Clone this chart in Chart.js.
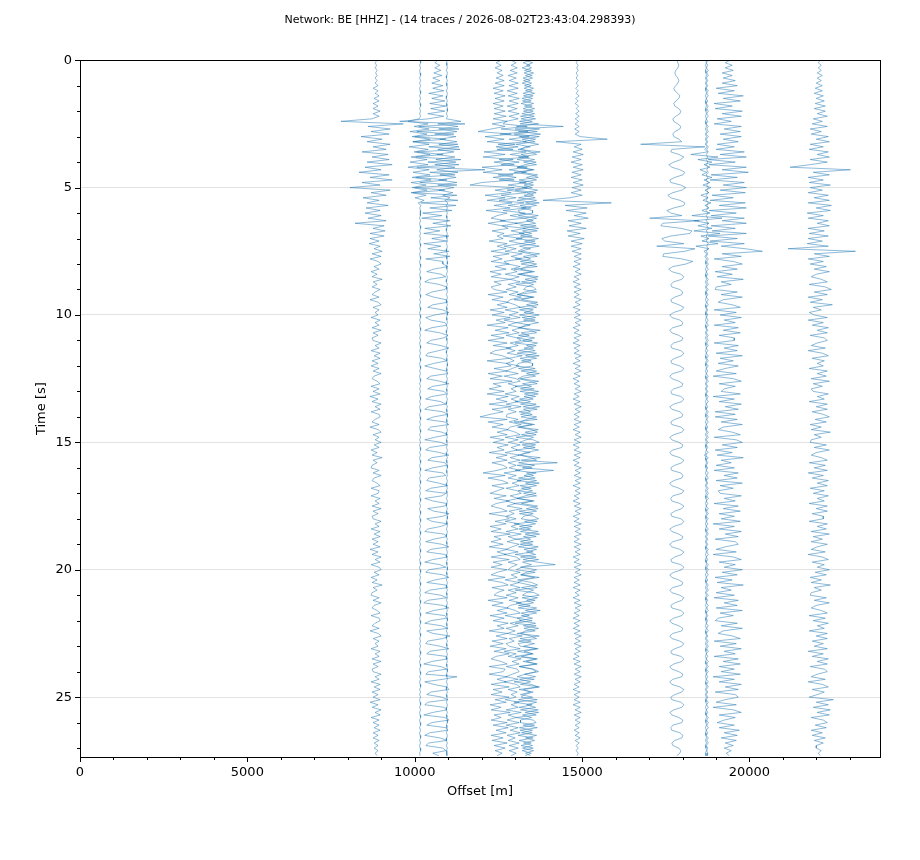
<!DOCTYPE html>
<html>
<head>
<meta charset="utf-8">
<script src="https://cdn.jsdelivr.net/npm/chart.js@4.4.1/dist/chart.umd.min.js"></script>
<style>
  html, body { margin: 0; padding: 0; background: #fff; }
  #wrap { width: 920px; height: 860px; }
</style>
</head>
<body>
<div id="wrap"><canvas id="chart"></canvas></div>
<script>
// record section: 14 vertical traces, time goes down
const titleText = 'Network: BE [HHZ] - (14 traces / 2026-08-02T23:43:04.298393)';
const sampleStep = 0.1;      // s between samples
const ampUnit = 30;          // metres of offset per amplitude count
const xMax = 23900;
const yMax = 27.35;
const xTickLabels = [0, 5000, 10000, 15000, 20000];
const yTickLabels = [0, 5, 10, 15, 20, 25];

// station offsets [m]
const stationOffsets = [8846, 10161, 10660, 10960, 12522, 12941, 13359, 13400, 14853, 17830, 18739, 18700, 19366, 22086];

// amplitudes, one row = 1 s (10 samples)
const trace_8846 = [
  1,-1,0.5,-1,1,-0.5,1,-1,1,-1,
  2,-3,2,-1,3,-2,3,-3,2,-3,
  4,-3,3,-4,-35,27,-8,14,-5,13,
  -15,6,-9,14,-3,10,-14,12,-4,13,
  -9,16,-11,5,-17,13,-6,16,-14,4,
  -26,14,-5,10,-13,3,-9,12,-10,4,
  -11,5,-8,10,-21,8,-3,9,-6,8,
  -6,3,-7,4,-2,6,-4,5,-6,2,
  5,-2,3,-5,1,-4,6,-3,1,-4,
  4,-1,-4,3,-6,2,5,-3,3,-1,
  2,-5,4,-1,3,-4,5,-3,2,-4,
  -3,5,-1,3,-5,4,-2,4,-4,2,
  -5,3,-3,5,-2,-4,1,4,-5,3,
  -3,4,-6,2,-4,5,-1,4,-5,3,
  4,-1,-4,3,-6,2,5,-3,3,-1,
  5,-2,3,-5,1,-4,6,-3,1,-4,
  -5,3,-3,5,-2,-4,1,4,-5,3,
  2,-5,4,-1,3,-4,5,-3,2,-4,
  -3,5,-1,3,-5,4,-2,4,-4,2,
  -3,4,-6,2,-4,5,-1,4,-5,3,
  5,-2,3,-5,1,-4,6,-3,1,-4,
  -5,3,-3,5,-2,-4,1,4,-5,3,
  4,-1,-4,3,-6,2,5,-3,3,-1,
  2,-5,4,-1,3,-4,5,-3,2,-4,
  -3,5,-1,3,-5,4,-2,4,-4,2,
  -3,4,-6,2,-4,5,-1,4,-5,3,
  -3,3,-2,4,-3,2,-3,3,-2,2,
  -2,2,-1,1
];
const trace_10161 = [
  0,0.5,-0.5,0.5,-0.5,0,0.5,-0.5,0.5,-0.5,
  0.5,-0.5,0,0.5,-0.5,0.5,-0.5,0,0.5,-0.5,
  0.5,-0.5,0.5,-1,-12,8,-6,9,-10,7,
  -8,10,-7,9,-11,8,-6,10,-9,7,
  -10,8,-12,9,-7,10,-8,11,-9,6,
  -8,7,-9,6,-5,4,-2,1,-0.5,0.5,
  0,0.5,-0.5,0.5,-0.5,0,0.5,-0.5,0.5,-0.5,
  0.5,-0.5,0,0.5,-0.5,0.5,-0.5,0,0.5,-0.5,
  0,0.5,-0.5,0.5,-0.5,0,0.5,-0.5,0.5,-0.5,
  0.5,-0.5,0,0.5,-0.5,0.5,-0.5,0,0.5,-0.5,
  0,0.5,-0.5,0.5,-0.5,0,0.5,-0.5,0.5,-0.5,
  0.5,-0.5,0,0.5,-0.5,0.5,-0.5,0,0.5,-0.5,
  0,0.5,-0.5,0.5,-0.5,0,0.5,-0.5,0.5,-0.5,
  0.5,-0.5,0,0.5,-0.5,0.5,-0.5,0,0.5,-0.5,
  0,0.5,-0.5,0.5,-0.5,0,0.5,-0.5,0.5,-0.5,
  0.5,-0.5,0,0.5,-0.5,0.5,-0.5,0,0.5,-0.5,
  0,0.5,-0.5,0.5,-0.5,0,0.5,-0.5,0.5,-0.5,
  0.5,-0.5,0,0.5,-0.5,0.5,-0.5,0,0.5,-0.5,
  0,0.5,-0.5,0.5,-0.5,0,0.5,-0.5,0.5,-0.5,
  0.5,-0.5,0,0.5,-0.5,0.5,-0.5,0,0.5,-0.5,
  0,0.5,-0.5,0.5,-0.5,0,0.5,-0.5,0.5,-0.5,
  0.5,-0.5,0,0.5,-0.5,0.5,-0.5,0,0.5,-0.5,
  0,0.5,-0.5,0.5,-0.5,0,0.5,-0.5,0.5,-0.5,
  0.5,-0.5,0,0.5,-0.5,0.5,-0.5,0,0.5,-0.5,
  0,0.5,-0.5,0.5,-0.5,0,0.5,-0.5,0.5,-0.5,
  0.5,-0.5,0,0.5,-0.5,0.5,-0.5,0,0.5,-0.5,
  0,0.5,-0.5,0.5,-0.5,0,0.5,-0.5,0.5,-0.5,
  0,0.5,-0.5,0
];
const trace_10660 = [
  1,-2,3,-2,4,-3,5,-4,3,-5,
  6,-4,7,-8,6,-5,8,-7,9,-6,
  8,-9,7,-8,-37,28,-18,22,-20,17,
  -22,9,-24,21,-8,23,-20,6,-21,24,
  -9,22,-20,48,-7,18,-21,10,-17,20,
  -22,8,-24,20,-6,21,-16,19,-7,15,
  -14,5,-15,13,-4,14,-12,3,-13,12,
  -5,10,-13,4,-9,12,-3,13,-11,6,
  6,11,-3,-10,4,9,-7,-12,2,10,
  8,-5,-11,-3,9,11,-4,-9,6,12,
  -2,-11,-6,8,10,-5,-12,3,11,7,
  -6,-10,4,12,2,-9,-11,5,10,-3,
  -12,-2,9,11,-6,-10,3,12,-4,-9,
  7,10,-5,-11,4,9,-8,-12,6,11,
  -3,-10,8,12,-6,-9,5,11,-2,-12,
  4,10,-7,-11,3,12,-5,-9,8,10,
  -4,-12,6,9,-8,-10,2,11,-6,-11,
  9,5,-12,-4,10,8,-9,-3,12,6,
  -10,-5,11,4,-9,-12,7,10,-3,-11,
  5,12,-6,-10,8,11,-4,-12,3,9,
  -8,-11,6,12,-2,-10,9,11,-7,-12,
  4,10,-9,-13,6,12,-3,-11,8,10,
  -6,-12,5,11,-10,-4,13,6,-9,-11,
  3,12,-7,-10,9,11,-5,-13,4,10,
  -8,-11,20,6,-12,-3,10,12,-6,-10,
  5,11,-9,-12,7,10,-4,-13,8,12,
  -5,-10,9,11,-7,-12,3,10,-8,-11,
  6,9,-4,2
];
const trace_10960 = [
  0.5,-0.5,0,0.5,-0.5,0.5,0,-0.5,0.5,-0.5,
  0,0.5,-0.5,0.5,0,-0.5,0.5,-0.5,0,0.5,
  0.5,-0.5,0.5,-0.5,14,-9,11,-8,10,-12,
  9,-7,10,-8,12,-9,7,-10,8,-11,
  9,-12,8,-10,11,-7,9,-8,10,-9,
  7,-8,6,-4,3,-2,1,-0.5,0.5,-0.5,
  0.5,-0.5,0,0.5,-0.5,0.5,0,-0.5,0.5,-0.5,
  0,0.5,-0.5,0.5,0,-0.5,0.5,-0.5,0,0.5,
  0.5,-0.5,0,0.5,-0.5,0.5,0,-0.5,0.5,-0.5,
  0,0.5,-0.5,0.5,0,-0.5,0.5,-0.5,0,0.5,
  0.5,-0.5,0,0.5,-0.5,0.5,0,-0.5,0.5,-0.5,
  0,0.5,-0.5,0.5,0,-0.5,0.5,-0.5,0,0.5,
  0.5,-0.5,0,0.5,-0.5,0.5,0,-0.5,0.5,-0.5,
  0,0.5,-0.5,0.5,0,-0.5,0.5,-0.5,0,0.5,
  0.5,-0.5,0,0.5,-0.5,0.5,0,-0.5,0.5,-0.5,
  0,0.5,-0.5,0.5,0,-0.5,0.5,-0.5,0,0.5,
  0.5,-0.5,0,0.5,-0.5,0.5,0,-0.5,0.5,-0.5,
  0,0.5,-0.5,0.5,0,-0.5,0.5,-0.5,0,0.5,
  0.5,-0.5,0,0.5,-0.5,0.5,0,-0.5,0.5,-0.5,
  0,0.5,-0.5,0.5,0,-0.5,0.5,-0.5,0,0.5,
  0.5,-0.5,0,0.5,-0.5,0.5,0,-0.5,0.5,-0.5,
  0,0.5,-0.5,0.5,0,-0.5,0.5,-0.5,0,0.5,
  0.5,-0.5,0,0.5,-0.5,0.5,0,-0.5,0.5,-0.5,
  0,0.5,-0.5,0.5,0,-0.5,0.5,-0.5,0,0.5,
  0.5,-0.5,0,0.5,-0.5,0.5,0,-0.5,0.5,-0.5,
  0,0.5,-0.5,0.5,0,-0.5,0.5,-0.5,0,0.5,
  0.5,-0.5,0,0.5,-0.5,0.5,0,-0.5,0.5,-0.5,
  0.5,-0.5,0,0
];
const trace_12522 = [
  2,-3,2,-4,3,-2,4,-3,5,-4,
  5,-6,4,-5,6,-4,5,-6,4,-5,
  6,-5,7,-6,8,-7,6,-8,-21,12,
  -14,5,-12,16,-3,14,-15,6,-16,14,
  -5,15,-17,3,-16,14,-6,15,-17,-29,
  15,-4,12,-14,6,-12,13,-5,11,-13,
  8,-2,-8,6,-11,3,9,-7,5,-2,
  4,-10,8,-2,7,-8,10,-6,3,-8,
  10,-4,7,-9,2,-8,11,-5,2,-8,
  -5,8,-11,4,-7,9,-2,8,-9,5,
  -7,11,-3,6,-12,9,-4,10,-8,5,
  -11,8,-6,12,-4,-9,3,10,-12,7,
  12,-5,8,-11,3,-9,13,-6,2,-10,
  5,-12,9,-3,8,-10,12,-7,4,-9,
  -19,8,-11,4,-7,9,-2,8,-9,5,
  -6,9,-2,5,-10,8,-3,8,-7,4,
  8,-2,-16,6,-11,3,9,-7,5,-2,
  -9,7,-5,10,-3,-8,2,8,-10,6,
  10,-4,7,-9,2,-8,11,-5,2,-8,
  4,-10,8,-2,7,-8,10,-6,3,-8,
  8,-2,-8,6,-11,3,9,-7,5,-2,
  -5,8,-11,4,-7,9,-2,8,-9,5,
  -6,9,-2,5,-10,8,-3,8,-7,4,
  -9,7,-5,10,-3,-8,2,8,-10,6,
  4,-10,8,-2,7,-8,10,-6,3,-8,
  10,-4,7,-9,2,-8,11,-5,2,-8,
  8,-6,9,-3,7,-8,4,-7,8,-5,
  6,-4,3,-2
];
const trace_12941 = [
  -2,3,-2,4,-3,4,-5,3,-4,5,
  -4,5,-6,4,-5,6,-4,5,-6,4,
  -5,6,-4,5,-7,-10,14,-12,15,-13,
  16,-4,13,-15,5,-16,13,-3,15,-14,
  6,-12,14,-4,13,-15,3,-14,13,-5,
  14,-6,13,-12,3,-14,11,-5,13,-10,
  12,-3,11,-13,4,-11,12,-2,11,-10,
  9,-4,8,-9,3,-8,9,-2,8,-9,
  -5,7,-2,4,-8,6,-3,7,-5,3,
  -7,5,-4,8,-3,-6,2,7,-8,5,
  -4,7,-9,3,-5,8,-1,6,-7,4,
  8,-3,5,-7,2,-6,9,-4,1,-7,
  6,-1,-7,5,-9,3,7,-5,4,-2,
  3,-8,6,-2,5,-7,8,-5,3,-6,
  -7,5,-4,8,-3,-6,2,7,-8,5,
  -5,7,-2,4,-8,6,-3,7,-5,3,
  -4,7,-9,3,-5,8,-1,6,-7,4,
  8,-3,5,-7,2,-6,9,-4,1,-7,
  3,-8,6,-2,5,-7,8,-5,3,-6,
  6,-1,-7,5,-9,3,7,-5,4,-2,
  -5,7,-2,4,-8,6,-3,7,-5,3,
  -7,5,-4,8,-3,-6,2,7,-8,5,
  8,-3,5,-7,2,-6,9,-4,1,-7,
  -4,7,-9,3,-5,8,-1,6,-7,4,
  6,-1,-7,5,-9,3,7,-5,4,-2,
  3,-8,6,-2,5,-7,8,-5,3,-6,
  6,-7,5,-3,7,-6,2,-5,6,-4,
  5,-4,3,-2
];
const trace_13359 = [
  3,-4,3,-5,4,-3,5,-4,3,-5,
  4,-3,5,-4,6,-5,4,-6,5,-4,
  6,-5,7,-6,5,-7,36,-12,10,-13,
  12,-5,8,-11,3,-9,13,-6,2,-10,
  9,-2,-10,7,-13,4,11,-8,6,-3,
  5,-12,9,-3,8,-10,12,-7,4,-9,
  -7,11,-3,6,-12,9,-4,10,-8,5,
  -11,8,-6,12,-4,-9,3,10,-12,7,
  -6,10,-13,5,-8,11,-2,9,-11,6,
  9,-2,-10,7,-13,4,11,-8,6,-3,
  12,-5,8,-11,3,-9,13,-6,2,-10,
  5,-12,9,-3,8,-10,12,-7,4,-9,
  -11,8,-6,12,-4,-9,3,10,-12,7,
  -7,11,-3,6,-12,9,-4,10,-8,5,
  -6,10,-13,5,-8,11,-2,9,-11,6,
  12,-5,8,-11,3,-9,13,-6,30,-10,
  5,-12,9,-3,8,-10,12,-7,4,-9,
  9,-2,-10,7,-13,4,11,-8,6,-3,
  -6,10,-13,5,-8,11,-2,9,-11,6,
  -7,11,-3,6,-12,9,-4,10,28,-5,
  -11,8,-6,12,-4,-9,3,10,-12,7,
  12,-5,8,-11,3,-9,13,-6,2,-10,
  5,-12,9,-3,8,-10,12,-7,4,-9,
  -7,11,-3,6,-12,9,-4,10,-8,5,
  9,-2,-10,7,-13,4,11,-8,6,-3,
  -6,10,-13,5,-8,11,-2,9,-11,6,
  9,-4,10,-7,5,-9,6,-8,4,-6,
  6,-5,4,-2
];
const trace_13400 = [
  -3,4,-2,3,-4,5,-3,4,-5,3,
  -4,5,-3,6,-5,4,-6,5,-4,6,
  -5,6,-8,7,-9,10,-12,11,-10,12,
  -9,7,-5,10,-3,-8,2,8,-10,6,
  -5,8,-11,4,-7,9,-2,8,-9,5,
  -6,9,-2,5,-10,8,-3,8,-7,4,
  4,-10,8,-2,7,-8,10,-6,3,-8,
  10,-4,7,-9,2,-8,11,-5,2,-8,
  8,-2,-8,6,-11,3,9,-7,5,-2,
  -5,8,-11,4,-7,9,-2,8,-9,5,
  -9,7,-5,10,-3,-8,2,8,-10,6,
  -6,9,-2,5,-10,8,-3,8,-7,4,
  4,-10,8,-2,7,-8,10,-6,3,-8,
  10,-4,7,-9,2,-8,11,-5,2,-8,
  8,-2,-8,6,-11,3,9,-7,5,-2,
  -9,7,-5,10,-3,-8,2,8,-10,6,
  -6,25,-2,5,-10,8,-3,8,-7,4,
  -5,8,-11,4,-7,9,-2,8,-9,5,
  10,-4,7,-9,2,-8,11,-5,2,-8,
  4,-10,8,-2,7,-8,10,-6,3,-8,
  8,-2,-8,6,-11,3,9,-7,5,-2,
  -6,9,-2,5,-10,8,-3,8,-7,4,
  -9,7,-5,10,-3,-8,2,8,-10,6,
  -5,8,-11,4,-7,9,-2,8,-9,5,
  10,-4,7,-9,2,-8,11,-5,2,-8,
  4,-10,8,-2,7,-8,10,-6,3,-8,
  -8,6,-9,4,-7,8,-3,6,-5,4,
  -6,5,-3,2
];
const trace_14853 = [
  0.5,-1,1,-0.5,1,-1,0.5,-1,1,-1,
  1,-1.5,1,-1,2,-1.5,1,-2,1.5,-1,
  2,-1.5,2,-2,1.5,-2,2,-2.5,2,-2,
  3,30,-21,4,-3,5,-4,6,-5,4,
  -6,5,-4,6,-5,4,-6,5,-4,6,
  -5,4,-6,5,-7,-34,34,-12,10,-11,
  9,-3,11,-9,4,-8,9,-10,3,-9,
  7,-6,5,-6,4,-5,4,-3,4,-3,
  3,-4,3,-2,4,-3,2,-4,3,-3,
  4,-3,2,-3,4,-2,3,-4,3,-2,
  3,-3,4,-2,3,-4,2,-3,4,-3,
  2,-4,3,-3,2,-3,4,-2,3,-4,
  3,-2,4,-3,3,-4,2,-3,3,-2,
  4,-3,2,-4,3,-3,4,-2,3,-3,
  2,-3,4,-3,2,-4,3,-2,4,-3,
  3,-4,2,-3,4,-3,3,-4,2,-3,
  4,-2,3,-3,4,-2,3,-4,3,-2,
  3,-3,2,-4,3,-3,4,-2,3,-4,
  2,-3,4,-3,3,-2,4,-3,2,-3,
  4,-3,3,-2,3,-4,2,-3,4,-3,
  3,-2,4,-3,2,-3,3,-4,3,-2,
  2,-4,3,-3,4,-2,3,-3,2,-4,
  3,-3,2,-4,3,-3,4,-2,3,-3,
  4,-2,3,-3,2,-4,3,-3,4,-2,
  3,-3,4,-2,3,-3,2,-4,3,-3,
  2,-3,3,-4,3,-2,4,-3,3,-2,
  3,-2,2,-3,2,-2,3,-2,2,-1,
  1,-1,1,0
];
const trace_17830 = [
  0,1,2,1,-1,-2,-1,1,2,1,
  -1,-3,-2,1,3,2,-1,-3,-2,2,
  4,3,-1,-4,-3,1,4,3,-2,-4,
  -3,2,5,-36,28,-5,-6,2,7,4,
  -3,-8,-5,3,8,6,-2,-7,-6,4,
  9,5,-4,-9,-6,3,8,7,-3,-10,
  -6,5,-27,22,-14,-16,4,15,13,-6,
  -15,-12,7,-20,18,8,-13,-14,5,16,
  9,-4,-8,-5,4,7,5,-3,-6,-5,
  3,6,5,-2,-6,-5,2,7,5,-3,
  -7,-5,3,6,5,-4,-7,-5,2,6,
  5,-3,-6,-5,4,7,5,-2,-6,-5,
  3,7,5,-4,-7,-5,2,6,5,-3,
  -6,-5,4,7,5,-3,-7,-5,3,6,
  5,-2,-6,-5,4,7,5,-3,-7,-5,
  2,6,5,-4,-7,-5,3,7,5,-2,
  -6,-5,4,6,5,-3,-7,-5,2,7,
  5,-4,-6,-5,3,7,5,-2,-6,-5,
  4,7,5,-3,-7,-5,2,6,5,-4,
  -7,-5,3,7,5,-2,-6,-5,4,7,
  5,-3,-7,-5,2,6,5,-4,-7,-5,
  3,7,5,-2,-6,-5,4,7,5,-3,
  -7,-5,2,6,5,-4,-7,-5,3,7,
  5,-2,-6,-5,4,7,5,-3,-7,-5,
  2,6,5,-4,-7,-5,3,7,5,-2,
  -6,-5,4,7,5,-3,-7,-5,2,6,
  5,-4,-6,-5,3,6,5,-2,-5,-4,
  2,4,3,0
];
const trace_18739 = [
  1,-1,0.5,-1,1,-0.5,1,-1,0.5,-1,
  0.5,-1,1,-0.5,1,-1,0.5,-1,1,-0.5,
  1,-0.5,1,-1,0.5,-1,1,-0.5,1,-1,
  1,-1,0.5,-1,1,-0.5,1,-1,0.5,-1,
  0.5,-1,1,-0.5,1,-1,0.5,-1,1,-0.5,
  1,-0.5,1,-1,0.5,-1,1,-0.5,1,-1,
  1,-1,0.5,-1,1,-0.5,1,-1,0.5,-1,
  0.5,-1,1,-0.5,1,-1,0.5,-1,1,-0.5,
  1,-0.5,1,-1,0.5,-1,1,-0.5,1,-1,
  1,-1,0.5,-1,1,-0.5,1,-1,0.5,-1,
  0.5,-1,1,-0.5,1,-1,0.5,-1,1,-0.5,
  1,-0.5,1,-1,0.5,-1,1,-0.5,1,-1,
  1,-1,0.5,-1,1,-0.5,1,-1,0.5,-1,
  0.5,-1,1,-0.5,1,-1,0.5,-1,1,-0.5,
  1,-0.5,1,-1,0.5,-1,1,-0.5,1,-1,
  1,-1,0.5,-1,1,-3,1,-1,0.5,-1,
  0.5,-1,1,-0.5,1,-1,0.5,-1,1,-0.5,
  1,-0.5,1,-1,0.5,-1,1,-0.5,1,-1,
  1,-1,0.5,-1,1,-0.5,1,-1,0.5,-1,
  0.5,-1,1,-0.5,1,-1,0.5,-1,1,-0.5,
  1,-0.5,1,-1,0.5,-1,1,-0.5,1,-1,
  1,-1,0.5,-1,1,-0.5,1,-1,0.5,-1,
  0.5,-1,1,-0.5,1,-1,0.5,-1,1,-0.5,
  1,-0.5,1,-1,0.5,-1,1,-0.5,1,-1,
  1,-1,0.5,-1,1,-0.5,1,-1,0.5,-1,
  0.5,-1,1,-0.5,1,-1,0.5,-1,1,-0.5,
  1,-0.5,1,-1,0.5,-1,1,-0.5,1,-1,
  0.5,-0.5,0.5,0
];
const trace_18700 = [
  0,0.5,-0.5,0.5,-0.5,0,0.5,-0.5,0.5,-0.5,
  0.5,-0.5,0,0.5,-0.5,0.5,-0.5,0,0.5,-0.5,
  0,0.5,-0.5,0.5,-0.5,0,0.5,-0.5,0.5,-0.5,
  0.5,-0.5,0.5,-0.5,1,-1,1.5,-15,12,-8,
  6,-2,4,-6,1,-4,6,-2,4,-3,
  5,-1,3,-5,2,-3,5,-1,3,-4,
  4,-14,16,-12,3,-8,6,-12,14,-5,
  3,-4,12,-10,3,-2,1,-1,0.5,-0.5,
  0,0.5,-0.5,0.5,-0.5,0,0.5,-0.5,0.5,-0.5,
  0.5,-0.5,0,0.5,-0.5,0.5,-0.5,0,0.5,-0.5,
  0,0.5,-0.5,0.5,-0.5,0,0.5,-0.5,0.5,-0.5,
  0.5,-0.5,0,0.5,-0.5,0.5,-0.5,0,0.5,-0.5,
  0,0.5,-0.5,0.5,-0.5,0,0.5,-0.5,0.5,-0.5,
  0.5,-0.5,0,0.5,-0.5,0.5,-0.5,0,0.5,-0.5,
  0,0.5,-0.5,0.5,-0.5,0,0.5,-0.5,0.5,-0.5,
  0.5,-0.5,0,0.5,-0.5,0.5,-0.5,0,0.5,-0.5,
  0,0.5,-0.5,0.5,-0.5,0,0.5,-0.5,0.5,-0.5,
  0.5,-0.5,0,0.5,-0.5,0.5,-0.5,0,0.5,-0.5,
  0,0.5,-0.5,0.5,-0.5,0,0.5,-0.5,0.5,-0.5,
  0.5,-0.5,0,0.5,-0.5,0.5,-0.5,0,0.5,-0.5,
  0,0.5,-0.5,0.5,-0.5,0,0.5,-0.5,0.5,-0.5,
  0.5,-0.5,0,0.5,-0.5,0.5,-0.5,0,0.5,-0.5,
  0,0.5,-0.5,0.5,-0.5,0,0.5,-0.5,0.5,-0.5,
  0.5,-0.5,0,0.5,-0.5,0.5,-0.5,0,0.5,-0.5,
  0,0.5,-0.5,0.5,-0.5,0,0.5,-0.5,0.5,-0.5,
  0.5,-0.5,0,0.5,-0.5,0.5,-0.5,0,0.5,-0.5,
  0,0.5,-0.5,0.5,-0.5,0,0.5,-0.5,0.5,-0.5,
  0,0.5,-0.5,0
];
const trace_19366 = [
  2,-3,4,-3,5,-6,4,-5,7,-6,
  9,-12,6,-10,15,-5,12,-14,4,-13,
  14,-6,13,-11,3,-14,13,-4,12,-8,
  13,-5,10,-11,6,-12,16,-8,18,-20,
  7,-19,18,-6,20,-17,9,-18,16,-5,
  18,-8,17,-16,5,-18,17,-9,18,-19,
  8,-17,16,-6,18,-17,7,-16,18,-20,
  9,-18,16,-7,17,34,-6,13,-14,5,
  14,-6,9,-13,4,-11,15,-7,3,-12,
  -13,9,-7,14,-5,-10,4,12,-14,8,
  -8,13,-4,7,-14,10,-5,12,-9,6,
  6,-14,10,-4,9,-12,14,-8,5,-10,
  10,-3,-12,8,-15,5,13,-9,7,-4,
  -7,12,-15,6,-9,13,-3,10,-13,7,
  -13,9,-7,14,-5,-10,4,12,-14,8,
  14,-6,9,-13,4,-11,15,-7,3,-12,
  6,-14,10,-4,9,-12,14,-8,5,-10,
  -8,13,-4,7,-14,10,-5,12,-9,6,
  -7,12,-15,6,-9,13,-3,10,-13,7,
  10,-3,-12,8,-15,5,13,-9,7,-4,
  14,-6,9,-13,4,-11,15,-7,3,-12,
  6,-14,10,-4,9,-12,14,-8,5,-10,
  -13,9,-7,14,-5,-10,4,12,-14,8,
  -8,13,-4,7,-14,10,-5,12,-9,6,
  -7,12,-15,6,-9,13,-3,10,-13,7,
  10,-3,-12,8,-15,5,13,-9,7,-4,
  -11,6,-9,11,-4,9,-7,8,-3,5,
  -4,3,-2,1
];
const trace_22086 = [
  1,-1,2,-1,2,-2,3,-2,2,-3,
  3,-4,3,-5,4,-3,5,-4,6,-5,
  6,-2,8,-6,3,-7,8,-9,2,-8,
  9,-3,10,-9,4,-10,9,-2,10,-9,
  8,-9,-29,31,-6,10,-11,4,-10,11,
  -9,3,-11,9,-5,10,-11,12,-3,11,
  -12,4,-11,9,-2,10,-11,5,-10,9,
  -11,3,-12,9,-31,36,-5,10,-11,4,
  -9,7,-5,10,-3,-8,2,8,-10,6,
  12,-5,8,-11,3,-9,13,-6,2,-10,
  -5,8,-11,4,-7,9,-2,8,-9,5,
  8,-2,-8,6,-11,3,9,-7,5,-2,
  4,-10,8,-2,7,-8,10,-6,3,-8,
  -6,9,-2,5,-10,8,-3,8,-7,4,
  10,-4,7,-9,2,-8,11,-5,2,-8,
  -9,7,-5,10,-3,-8,2,8,-10,6,
  -5,8,-11,4,-7,9,-2,8,-9,5,
  -6,9,-2,5,-10,8,-3,8,-7,4,
  4,-10,8,-2,7,-8,10,-6,3,-8,
  8,-2,-8,6,-11,3,9,-7,5,-2,
  10,-4,7,-9,2,-8,11,-5,2,-8,
  -9,7,-5,10,-3,-8,2,8,-10,6,
  -6,9,-2,5,-10,8,-3,8,-7,4,
  -5,8,-11,4,-7,9,-2,8,-9,5,
  8,-2,-8,6,-11,3,9,-7,5,-2,
  -10,14,-3,9,-6,11,-2,10,-8,4,
  8,-4,7,-8,3,-7,6,-5,4,-3,
  -3,2,-1,1
];

const traces = [trace_8846, trace_10161, trace_10660, trace_10960, trace_12522, trace_12941,
  trace_13359, trace_13400, trace_14853, trace_17830, trace_18739, trace_18700, trace_19366, trace_22086];

const datasets = traces.map((amps, i) => ({
  label: String(stationOffsets[i]),
  data: amps.map((a, k) => ({ x: stationOffsets[i] + a * ampUnit, y: k * sampleStep })),
  showLine: true,
  borderColor: 'rgba(31, 119, 180, 0.5)',
  borderWidth: 1,
  pointRadius: 0,
  tension: 0
}));

// box round the plot + major/minor tick marks
const frameTicks = {
  id: 'frameTicks',
  afterDraw(chart) {
    const { ctx, chartArea: a, scales: { x, y } } = chart;
    ctx.save();
    ctx.strokeStyle = '#000';
    ctx.lineWidth = 1;
    ctx.beginPath();
    for (let v = 0; v <= xMax; v += 1000) {
      const px = Math.round(x.getPixelForValue(v)) + 0.5;
      const len = v % 5000 === 0 ? 5 : 3;
      ctx.moveTo(px, a.bottom);
      ctx.lineTo(px, a.bottom + len);
    }
    for (let v = 0; v <= yMax; v += 1) {
      const py = Math.round(y.getPixelForValue(v)) + 0.5;
      const len = v % 5 === 0 ? 5 : 3;
      ctx.moveTo(a.left, py);
      ctx.lineTo(a.left - len, py);
    }
    ctx.stroke();
    ctx.strokeRect(Math.round(a.left) + 0.5, Math.round(a.top) + 0.5,
      Math.round(a.right - a.left), Math.round(a.bottom - a.top));
    ctx.restore();
  }
};

Chart.defaults.font.family = "'DejaVu Sans', sans-serif";
Chart.defaults.color = '#000';

new Chart(document.getElementById('chart'), {
  type: 'scatter',
  data: { datasets },
  options: {
    responsive: true,
    maintainAspectRatio: false,
    animation: false,
    events: [],
    layout: { padding: 0 },
    plugins: {
      legend: { display: false },
      tooltip: { enabled: false },
      title: {
        display: true,
        text: titleText,
        font: { size: 11, weight: 'normal' },
        color: '#000',
        padding: { top: 14, bottom: 33 }
      }
    },
    scales: {
      x: {
        type: 'linear',
        min: 0,
        max: xMax,
        afterFit: s => { s.height = 103; },
        afterBuildTicks: s => { s.ticks = xTickLabels.map(v => ({ value: v })); },
        ticks: {
          autoSkip: false,
          padding: 8,
          maxRotation: 0,
          font: { size: 13 },
          callback: v => String(v)
        },
        grid: { drawOnChartArea: false, drawTicks: false },
        border: { display: false },
        title: { display: true, text: 'Offset [m]', font: { size: 13 }, padding: { top: 0, bottom: 61 } }
      },
      y: {
        type: 'linear',
        reverse: true,
        min: 0,
        max: yMax,
        afterFit: s => { s.width = 80; },
        afterBuildTicks: s => { s.ticks = yTickLabels.map(v => ({ value: v })); },
        ticks: {
          autoSkip: false,
          padding: 8,
          font: { size: 13 },
          callback: v => String(v)
        },
        grid: { color: '#e3e3e3', lineWidth: 1, drawTicks: false },
        border: { display: false },
        title: { display: true, text: 'Time [s]', font: { size: 13 }, padding: { top: 34, bottom: 0 } }
      },
      // empty right-hand margin so the title stays centred on the page
      yRight: {
        type: 'linear',
        position: 'right',
        display: true,
        afterFit: s => { s.width = 40; },
        ticks: { display: false },
        grid: { display: false },
        border: { display: false }
      }
    }
  },
  plugins: [frameTicks]
});
</script>
</body>
</html>
